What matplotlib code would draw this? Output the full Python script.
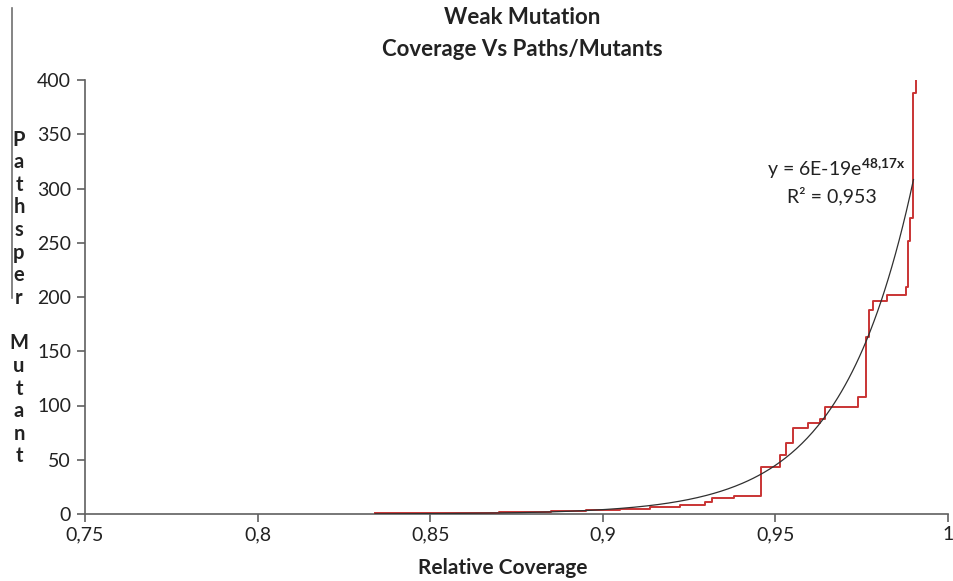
import numpy as np
import matplotlib
matplotlib.use("Agg")
import matplotlib.pyplot as plt
from matplotlib.lines import Line2D

plt.rcParams['font.family'] = ['Lato', 'DejaVu Sans']
plt.rcParams['mathtext.fontset'] = 'custom'
plt.rcParams['mathtext.rm'] = 'Lato'
plt.rcParams['mathtext.bf'] = 'Lato:bold'

# Step data: relative coverage vs paths per mutant
coverage = [0.834, 0.855, 0.870, 0.885, 0.895, 0.905, 0.9137, 0.9225, 0.9295,
            0.9315, 0.938, 0.9458, 0.9513, 0.9531, 0.9551, 0.9595, 0.9629,
            0.9644, 0.9739, 0.9763, 0.9771, 0.9783, 0.9823, 0.9878, 0.9884,
            0.9890, 0.9899, 0.9907]
paths = [0.5, 1, 2, 3, 4, 5, 6, 8, 11, 15, 17, 43, 54, 65, 79, 84, 88, 99,
         108, 163, 188, 196, 202, 209, 252, 273, 388, 400]

# Exponential trendline shown on chart: y = 6E-19 e^(48.17x)
fit_a = 6e-19
fit_b = 48.17
fit_range = (0.834, 0.99)

x_ticks = [0.75, 0.8, 0.85, 0.9, 0.95, 1.0]
x_tick_labels = ["0,75", "0,8", "0,85", "0,9", "0,95", "1"]
y_ticks = [0, 50, 100, 150, 200, 250, 300, 350, 400]

fig = plt.figure(figsize=(9.54, 5.81), dpi=100)
ax = fig.add_axes([85/954, 1-514/581, (948-85)/954, (514-80)/581])

ax.plot(coverage, paths, drawstyle='steps-post', color='#c93434', lw=1.4, zorder=3)
xf = np.linspace(fit_range[0], fit_range[1], 300)
ax.plot(xf, fit_a*np.exp(fit_b*xf), color='#303030', lw=0.9, zorder=4)

ax.set_xlim(0.75, 1.0)
ax.set_ylim(0, 400)
ax.set_xticks(x_ticks)
ax.set_xticklabels(x_tick_labels)
ax.set_yticks(y_ticks)
for s in ['top', 'right']:
    ax.spines[s].set_visible(False)
for s in ['left', 'bottom']:
    ax.spines[s].set_color('#606060')
    ax.spines[s].set_linewidth(1.2)
ax.tick_params(axis='both', colors='#606060', labelcolor='#222222',
               labelsize=14, length=6, width=1.2, direction='out')
ax.tick_params(axis='x', pad=3)
ax.tick_params(axis='y', pad=4)

fig.text(503/954, 1-568/581, "Relative Coverage", ha='center', va='center',
         fontsize=15, fontweight='bold', color='#222222')

fig.text(522/954, 1-18/581, "Weak Mutation", ha='center', va='center',
         fontsize=16, fontweight='bold', color='#222222')
fig.text(522/954, 1-49/581, "Coverage Vs Paths/Mutants", ha='center', va='center',
         fontsize=16, fontweight='bold', color='#222222')

ylabel = "P\na\nt\nh\ns\np\ne\nr\n\nM\nu\nt\na\nn\nt"
fig.text(19/954, 1-298/581, ylabel, ha='center', va='center', fontsize=14.5,
         fontweight='bold', color='#222222', linespacing=1.165)

fig.add_artist(Line2D([12/954, 12/954], [1-8/581, 1-298/581], color='#707070', lw=1.2))

ax.text(0.9475, 318, r"y = 6E-19e$^{\mathbf{48{,}17x}}$", fontsize=14, color='#222222',
        ha='left', va='center')
ax.text(0.9535, 293, "R² = 0,953", fontsize=14, color='#222222', ha='left', va='center')

fig.savefig("out.png", dpi=100)
